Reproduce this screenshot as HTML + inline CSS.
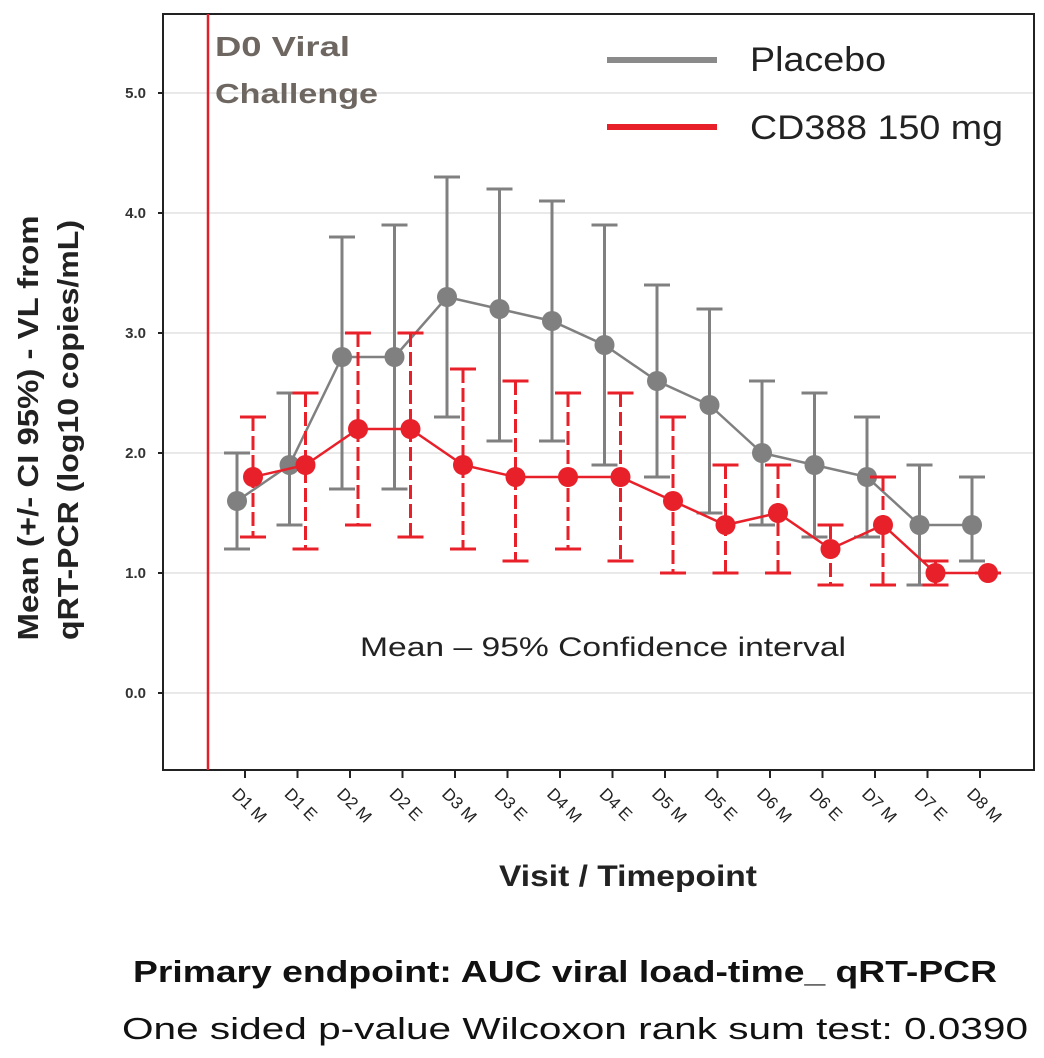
<!DOCTYPE html>
<html><head><meta charset="utf-8"><style>
html,body{margin:0;padding:0;background:#fff;}
svg{display:block;}
text{font-family:"Liberation Sans",sans-serif;}
</style></head><body>
<svg id="chart" width="1044" height="1058" viewBox="0 0 1044 1058">
<rect x="163" y="14" width="871" height="756" fill="#fff" stroke="#222" stroke-width="2"/>
<g id="grid"></g>
<g id="yticks"></g>
<g id="xticks"></g>
<line x1="208" y1="14" x2="208" y2="770" stroke="#e0202a" stroke-width="2.5"/>
<text x="215" y="56" font-size="28" font-weight="bold" fill="#6e6660" textLength="135" lengthAdjust="spacingAndGlyphs">D0 Viral</text>
<text x="215" y="103" font-size="28" font-weight="bold" fill="#6e6660" textLength="163" lengthAdjust="spacingAndGlyphs">Challenge</text>
<g id="series"></g>
<g>
<line x1="607" y1="60" x2="717" y2="60" stroke="#8a8a8a" stroke-width="6"/>
<text x="750" y="71" font-size="34" fill="#222" textLength="136" lengthAdjust="spacingAndGlyphs">Placebo</text>
<line x1="607" y1="127" x2="717" y2="127" stroke="#e8202a" stroke-width="6"/>
<text x="750" y="139" font-size="34" fill="#222" textLength="253" lengthAdjust="spacingAndGlyphs">CD388 150 mg</text>
</g>
<text x="360" y="656" font-size="27" fill="#222" textLength="486" lengthAdjust="spacingAndGlyphs">Mean – 95% Confidence interval</text>
<text transform="translate(38,428) rotate(-90)" font-size="29" font-weight="bold" fill="#222" text-anchor="middle" textLength="425" lengthAdjust="spacingAndGlyphs">Mean (+/- CI 95%) - VL from</text>
<text transform="translate(78,430) rotate(-90)" font-size="29" font-weight="bold" fill="#222" text-anchor="middle" textLength="420" lengthAdjust="spacingAndGlyphs">qRT-PCR (log10 copies/mL)</text>
<text x="499" y="886" font-size="30" font-weight="bold" fill="#222" textLength="258" lengthAdjust="spacingAndGlyphs">Visit / Timepoint</text>
<text x="133" y="982" font-size="31" font-weight="bold" fill="#111" textLength="864" lengthAdjust="spacingAndGlyphs">Primary endpoint: AUC viral load-time_ qRT-PCR</text>
<text x="122" y="1039" font-size="31" fill="#111" textLength="906" lengthAdjust="spacingAndGlyphs">One sided p-value Wilcoxon rank sum test: 0.0390</text>
</svg>
<script>
const categories=["D1 M","D1 E","D2 M","D2 E","D3 M","D3 E","D4 M","D4 E","D5 M","D5 E","D6 M","D6 E","D7 M","D7 E","D8 M"];
const yTicks=[0,1,2,3,4,5];
const placeboMean=[1.6,1.9,2.8,2.8,3.3,3.2,3.1,2.9,2.6,2.4,2.0,1.9,1.8,1.4,1.4];
const placeboUpper=[2.0,2.5,3.8,3.9,4.3,4.2,4.1,3.9,3.4,3.2,2.6,2.5,2.3,1.9,1.8];
const placeboLower=[1.2,1.4,1.7,1.7,2.3,2.1,2.1,1.9,1.8,1.5,1.4,1.3,1.3,0.9,1.1];
const cdMean=[1.8,1.9,2.2,2.2,1.9,1.8,1.8,1.8,1.6,1.4,1.5,1.2,1.4,1.0,1.0];
const cdUpper=[2.3,2.5,3.0,3.0,2.7,2.6,2.5,2.5,2.3,1.9,1.9,1.4,1.8,1.1,1.0];
const cdLower=[1.3,1.2,1.4,1.3,1.2,1.1,1.2,1.1,1.0,1.0,1.0,0.9,0.9,0.9,1.0];

const NS="http://www.w3.org/2000/svg";
const xS=i=>245+i*52.5;
const yS=v=>693-v*120;
function mk(tag,attrs,parent){const e=document.createElementNS(NS,tag);for(const k in attrs)e.setAttribute(k,attrs[k]);parent.appendChild(e);return e;}
const grid=document.getElementById('grid'),yt=document.getElementById('yticks'),xt=document.getElementById('xticks'),ser=document.getElementById('series');
yTicks.forEach(v=>{
  const g=mk('line',{x1:164,x2:1033,y1:yS(v),y2:yS(v),stroke:'#e2e2e2','stroke-width':1.5},grid);
  
  
  const t=mk('line',{x1:158,x2:163,y1:yS(v),y2:yS(v),stroke:'#222','stroke-width':2},yt);
  
  
  const l=mk('text',{x:146,y:yS(v)+5,'font-size':15,'font-weight':'bold','text-anchor':'end',fill:'#333'},yt);
  l.textContent=v.toFixed(1);
  
  
});
categories.forEach((c,i)=>{
  const x=xS(i);
  const t=mk('line',{x1:x,x2:x,y1:770,y2:778,stroke:'#222','stroke-width':2},xt);
  
  
  const l=mk('text',{transform:`translate(${x-14},${795}) rotate(45)`,'font-size':17,fill:'#222'},xt);
  l.textContent=c;
  
  
});
function drawSeries(mean,up,lo,off,color,dash,name){
  const pts=mean.map((v,i)=>[xS(i)+off,yS(v)]);
  up.forEach((u,i)=>{
    const x=xS(i)+off;
    const b=mk('line',{x1:x,x2:x,y1:yS(u),y2:yS(lo[i]),stroke:color,'stroke-width':3,'stroke-dasharray':dash},ser);
    
    
    [u,lo[i]].forEach(v=>{
      const c=mk('line',{x1:x-13,x2:x+13,y1:yS(v),y2:yS(v),stroke:color,'stroke-width':3},ser);
      
      
    });
  });
  const p=mk('polyline',{points:pts.map(q=>q.join(',')).join(' '),fill:'none',stroke:color,'stroke-width':2.5},ser);
  
  
  pts.forEach(q=>{
    const c=mk('circle',{cx:q[0],cy:q[1],r:10,fill:color},ser);
    
    
  });
}
drawSeries(placeboMean,placeboUpper,placeboLower,-8,'#808080','none','placebo');
drawSeries(cdMean,cdUpper,cdLower,8,'#e8202a','14,5','cd388');
</script>
</body></html>
